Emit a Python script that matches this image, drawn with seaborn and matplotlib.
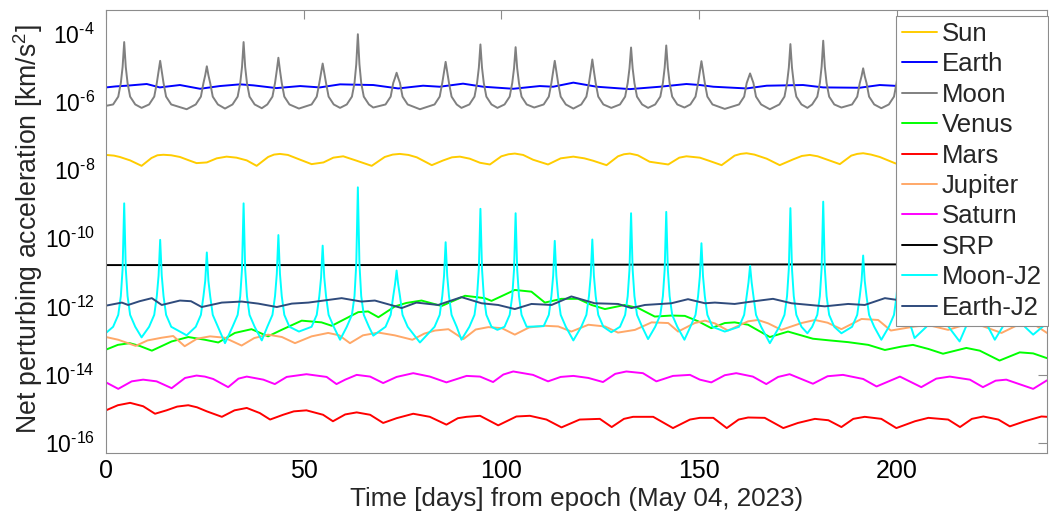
import math
import matplotlib
matplotlib.use("Agg")
import matplotlib.pyplot as plt
from matplotlib.ticker import FuncFormatter, NullLocator, FixedLocator
import pandas as pd
import seaborn as sns

# ---------------------------------------------------------------------------
# Perturbing accelerations, stored as log10 of the acceleration in km/s^2,
# sampled at the listed days after the epoch.
# ---------------------------------------------------------------------------
bodies = ["Sun", "Earth", "Moon", "Venus", "Mars", "Jupiter", "Saturn",
          "SRP", "Moon-J2", "Earth-J2"]

sun_days = [0, 2, 3.5, 6.1, 9.0, 11.5, 13, 14.5, 16.5, 18.7, 21, 22.9, 25.5, 28, 30.5,
            33, 35.6, 38.1, 41, 42.5, 44, 46, 49.1, 52, 55, 57.5, 60, 63.4, 67.2, 70.5,
            72.5, 74.3, 76.5, 78.6, 82.4, 85.3, 87.5, 89.5, 92, 94.6, 97.1, 100, 101.8,
            103.4, 105.5, 108, 111.8, 115, 118.2, 121, 123.2, 126.6, 129.5, 131, 132.5,
            134.5, 137.5, 142.2, 145, 146.8, 150.2, 152.5, 155.7, 159, 160.5, 162, 164,
            167.1, 170.4, 173.8, 176, 178, 180, 182.2, 185.6, 188.5, 190, 191.5, 193.5,
            195.7, 199.7, 203, 206, 208, 211, 215, 218.5, 220, 221.5, 223.5, 226, 229.5,
            232.5, 235, 238]
sun_log = [-7.56, -7.58, -7.62, -7.72, -7.88, -7.65, -7.57, -7.555, -7.57, -7.62, -7.72,
           -7.80, -7.78, -7.66, -7.61, -7.64, -7.72, -7.88, -7.62, -7.55, -7.53, -7.56,
           -7.70, -7.83, -7.78, -7.64, -7.60, -7.73, -7.88, -7.62, -7.55, -7.53, -7.56,
           -7.63, -7.86, -7.72, -7.63, -7.61, -7.67, -7.79, -7.84, -7.60, -7.54, -7.52,
           -7.56, -7.70, -7.84, -7.66, -7.61, -7.66, -7.73, -7.86, -7.60, -7.54, -7.52,
           -7.57, -7.76, -7.84, -7.64, -7.60, -7.64, -7.73, -7.86, -7.58, -7.53, -7.51,
           -7.55, -7.67, -7.86, -7.69, -7.59, -7.56, -7.60, -7.69, -7.83, -7.58, -7.53,
           -7.51, -7.55, -7.62, -7.81, -7.72, -7.60, -7.58, -7.66, -7.85, -7.60, -7.54,
           -7.53, -7.57, -7.70, -7.85, -7.66, -7.60, -7.61]

earth_days = [0, 2.5, 5.2, 10.3, 13.6, 18.7, 23.8, 28.8, 33.9, 37.3, 43.1, 49.1, 54.1,
              59.2, 63, 67.6, 73.9, 80.2, 84.4, 90.3, 95.4, 103, 109.7, 113.1, 118.2,
              124.1, 132.5, 140.1, 146.8, 150.2, 153.6, 162, 167.1, 176.3, 181.4, 190.6,
              195.7, 199.1, 205, 212, 220, 226, 232, 238]
earth_log = [-5.58, -5.55, -5.53, -5.48, -5.58, -5.51, -5.62, -5.54, -5.49, -5.52, -5.60,
             -5.54, -5.58, -5.49, -5.50, -5.51, -5.61, -5.53, -5.56, -5.47, -5.56, -5.62,
             -5.54, -5.56, -5.44, -5.56, -5.63, -5.56, -5.48, -5.51, -5.56, -5.61, -5.53,
             -5.51, -5.58, -5.59, -5.51, -5.53, -5.58, -5.50, -5.55, -5.60, -5.52, -5.54]

# Lunar terms: one row per close approach of the Moon
# (the trough before it, then the approach itself).
lunar_days = [
    0.0, 1.8, 3.1, 3.75, 4.2, 4.6, 5.0, 5.45, 6.1, 7.4,
    9.0, 10.9, 12.2, 12.85, 13.3, 13.7, 14.1, 14.55, 15.2, 16.5,
    20.4, 22.7, 24.0, 24.65, 25.1, 25.5, 25.9, 26.35, 27.0, 28.3,
    30.1, 32.0, 33.3, 33.95, 34.4, 34.8, 35.2, 35.65, 36.3, 37.6,
    39.4, 40.8, 42.1, 42.75, 43.2, 43.6, 44.0, 44.45, 45.1, 46.4,
    48.8, 52.0, 53.3, 53.95, 54.4, 54.8, 55.2, 55.65, 56.3, 57.6,
    59.2, 60.9, 62.2, 62.85, 63.3, 63.7, 64.1, 64.55, 65.2, 66.5,
    67.6, 70.7, 72.0, 72.65, 73.1, 73.5, 73.9, 74.35, 75.0, 76.3,
    79.4, 83.1, 84.4, 85.05, 85.5, 85.9, 86.3, 86.75, 87.4, 88.7,
    89.9, 91.9, 93.2, 93.85, 94.3, 94.7, 95.1, 95.55, 96.2, 97.5,
    99.0, 100.8, 102.1, 102.75, 103.2, 103.6, 104.0, 104.45, 105.1, 106.4,
    108.3, 110.7, 112.0, 112.65, 113.1, 113.5, 113.9, 114.35, 115.0, 116.3,
    118.2, 120.2, 121.5, 122.15, 122.6, 123.0, 123.4, 123.85, 124.5, 125.8,
    127.8, 130.0, 131.3, 131.95, 132.4, 132.8, 133.2, 133.65, 134.3, 135.6,
    137.1, 138.9, 140.2, 140.85, 141.3, 141.7, 142.1, 142.55, 143.2, 144.5,
    146.3, 147.8, 149.1, 149.75, 150.2, 150.6, 151.0, 151.45, 152.1, 153.4,
    156.5, 160.1, 161.4, 162.05, 162.5, 162.9, 163.3, 163.75, 164.4, 165.7,
    167.9, 170.3, 171.6, 172.25, 172.7, 173.1, 173.5, 173.95, 174.6, 175.9,
    177.4, 178.6, 179.9, 180.55, 181.0, 181.4, 181.8, 182.25, 182.9, 184.2,
    186.0, 188.7, 190.0, 190.65, 191.1, 191.5, 191.9, 192.35, 193.0, 194.3,
    196.1, 198.0, 199.3, 199.95, 200.4, 200.8, 201.2, 201.65, 202.3, 203.6,
    204.5, 207.5, 208.8, 209.45, 209.9, 210.3, 210.7, 211.15, 211.8, 213.1,
    215.9, 217.5, 218.8, 219.45, 219.9, 220.3, 220.7, 221.15, 221.8, 223.1,
    224.8, 226.8, 228.1, 228.75, 229.2, 229.6, 230.0, 230.45, 231.1, 232.4,
    234.5, 238.0,
]
moon_log = [
    -6.12, -6.08, -5.85, -5.45, -4.98, -4.25, -4.98, -5.45, -5.85, -6.08,
    -6.18, -6.08, -5.85, -5.45, -5.10, -4.80, -5.10, -5.45, -5.85, -6.08,
    -6.22, -6.08, -5.85, -5.45, -5.22, -4.96, -5.22, -5.45, -5.85, -6.08,
    -6.20, -6.08, -5.85, -5.45, -4.98, -4.25, -4.98, -5.45, -5.85, -6.08,
    -6.19, -6.08, -5.85, -5.45, -5.08, -4.71, -5.08, -5.45, -5.85, -6.08,
    -6.20, -6.08, -5.85, -5.45, -5.15, -4.88, -5.15, -5.45, -5.85, -6.08,
    -6.18, -6.08, -5.85, -5.45, -4.90, -4.02, -4.90, -5.45, -5.85, -6.08,
    -6.17, -6.08, -5.85, -5.45, -5.30, -5.15, -5.30, -5.45, -5.85, -6.08,
    -6.22, -6.08, -5.85, -5.45, -5.12, -4.83, -5.12, -5.45, -5.85, -6.08,
    -6.18, -6.08, -5.85, -5.45, -5.00, -4.32, -5.00, -5.45, -5.85, -6.08,
    -6.18, -6.08, -5.85, -5.45, -5.02, -4.40, -5.02, -5.45, -5.85, -6.08,
    -6.17, -6.08, -5.85, -5.45, -5.10, -4.80, -5.10, -5.45, -5.85, -6.08,
    -6.20, -6.08, -5.85, -5.45, -5.10, -4.76, -5.10, -5.45, -5.85, -6.08,
    -6.18, -6.08, -5.85, -5.45, -5.02, -4.41, -5.02, -5.45, -5.85, -6.08,
    -6.18, -6.08, -5.85, -5.45, -5.00, -4.35, -5.00, -5.45, -5.85, -6.08,
    -6.17, -6.08, -5.85, -5.45, -5.10, -4.81, -5.10, -5.45, -5.85, -6.08,
    -6.21, -6.08, -5.85, -5.45, -5.30, -5.17, -5.30, -5.45, -5.85, -6.08,
    -6.22, -6.08, -5.85, -5.45, -5.00, -4.31, -5.00, -5.45, -5.85, -6.08,
    -6.18, -6.08, -5.85, -5.45, -4.97, -4.21, -4.97, -5.45, -5.85, -6.08,
    -6.17, -6.08, -5.85, -5.45, -5.25, -5.02, -5.25, -5.45, -5.85, -6.08,
    -6.19, -6.08, -5.85, -5.45, -5.06, -4.60, -5.06, -5.45, -5.85, -6.08,
    -6.20, -6.08, -5.85, -5.45, -5.05, -4.55, -5.05, -5.45, -5.85, -6.08,
    -6.20, -6.08, -5.85, -5.45, -5.15, -4.90, -5.15, -5.45, -5.85, -6.08,
    -6.20, -6.08, -5.85, -5.45, -5.08, -4.70, -5.08, -5.45, -5.85, -6.08,
    -6.20, -6.00,
]
moon_j2_log = [
    -12.78, -12.60, -12.25, -11.70, -10.90, -8.98, -10.90, -11.70, -12.25, -12.60,
    -12.91, -12.60, -12.25, -11.70, -11.10, -10.05, -11.10, -11.70, -12.25, -12.60,
    -12.85, -12.60, -12.25, -11.70, -11.25, -10.42, -11.25, -11.70, -12.25, -12.60,
    -13.08, -12.60, -12.25, -11.70, -10.90, -8.98, -10.90, -11.70, -12.25, -12.60,
    -13.00, -12.60, -12.25, -11.70, -11.05, -9.91, -11.05, -11.70, -12.25, -12.60,
    -12.74, -12.60, -12.25, -11.70, -11.15, -10.22, -11.15, -11.70, -12.25, -12.60,
    -12.98, -12.60, -12.25, -11.70, -10.75, -8.51, -10.75, -11.70, -12.25, -12.60,
    -12.86, -12.60, -12.25, -11.70, -11.35, -10.95, -11.35, -11.70, -12.25, -12.60,
    -13.06, -12.60, -12.25, -11.70, -11.10, -10.12, -11.10, -11.70, -12.25, -12.60,
    -12.98, -12.60, -12.25, -11.70, -10.90, -9.14, -10.90, -11.70, -12.25, -12.60,
    -12.69, -12.60, -12.25, -11.70, -10.92, -9.27, -10.92, -11.70, -12.25, -12.60,
    -12.59, -12.58, -12.25, -11.70, -11.10, -10.08, -11.10, -11.70, -12.25, -12.60,
    -13.00, -12.60, -12.25, -11.70, -11.10, -10.04, -11.10, -11.70, -12.25, -12.60,
    -12.76, -12.60, -12.25, -11.70, -10.92, -9.27, -10.92, -11.70, -12.25, -12.60,
    -12.96, -12.60, -12.25, -11.70, -10.92, -9.23, -10.92, -11.70, -12.25, -12.60,
    -12.98, -12.60, -12.25, -11.70, -11.12, -10.15, -11.12, -11.70, -12.25, -12.60,
    -12.74, -12.60, -12.25, -11.70, -11.30, -10.81, -11.30, -11.70, -12.25, -12.60,
    -13.08, -12.60, -12.25, -11.70, -10.90, -9.12, -10.90, -11.70, -12.25, -12.60,
    -12.79, -12.60, -12.25, -11.70, -10.88, -8.93, -10.88, -11.70, -12.25, -12.60,
    -12.79, -12.60, -12.25, -11.70, -11.25, -10.51, -11.25, -11.70, -12.25, -12.60,
    -12.98, -12.60, -12.25, -11.70, -11.05, -9.80, -11.05, -11.70, -12.25, -12.60,
    -12.93, -12.60, -12.25, -11.70, -11.00, -9.50, -11.00, -11.70, -12.25, -12.60,
    -13.03, -12.60, -12.25, -11.70, -11.10, -10.00, -11.10, -11.70, -12.25, -12.60,
    -12.98, -12.60, -12.25, -11.70, -11.02, -9.60, -11.02, -11.70, -12.25, -12.60,
    -12.83, -12.49,
]

venus_days = [0, 3, 6, 8.5, 11.6, 16.6, 20.8, 25, 28.4, 32.6, 36.8, 41, 44.4, 49.5, 54.5,
              57.1, 63.8, 66.3, 68.9, 73.1, 76, 79.8, 84.9, 90.8, 95.8, 97.5, 103.4, 107.6,
              111, 115.2, 119.4, 122.8, 126.2, 131.2, 134.6, 138.8, 143, 146.4, 149.8,
              153.1, 156.5, 159, 162.4, 167.9, 172.5, 178.8, 183.1, 187.7, 192.8, 197,
              201.2, 204.1, 208, 211.7, 217.6, 221, 226, 231.1, 234.5, 238]
venus_log = [-13.27, -13.13, -13.08, -13.16, -13.30, -13.03, -12.90, -12.98, -13.06, -12.78,
             -12.67, -12.88, -12.69, -12.42, -12.47, -12.57, -12.17, -12.15, -12.32, -12.00,
             -11.90, -11.83, -11.99, -11.69, -11.76, -11.84, -11.52, -11.57, -11.89, -11.78,
             -11.78, -11.96, -12.08, -11.96, -12.05, -12.30, -12.27, -12.28, -12.44, -12.64,
             -12.49, -12.47, -12.54, -12.90, -12.74, -12.95, -13.00, -13.05, -13.13, -13.28,
             -13.18, -13.13, -13.25, -13.39, -13.22, -13.30, -13.59, -13.35, -13.38, -13.52]

mars_days = [0, 3, 6.1, 9.4, 12.4, 15.3, 18, 20.8, 23, 25.5, 29.3, 32.5, 35.6, 38.9, 41.5,
             44.8, 47.5, 50.7, 54.9, 57.4, 60.5, 63.4, 66.8, 70.1, 73.5, 77.7, 81.9, 86.1,
             89, 91.2, 94.6, 99.2, 103.8, 107.2, 111.4, 115.2, 119.8, 124.9, 127.9, 131,
             133.3, 138.4, 143.4, 147.7, 150.2, 153.6, 157.0, 160, 162.4, 166.6, 171.3,
             175.0, 179.3, 182.7, 186.0, 189, 191.9, 196.1, 199.9, 204.6, 208.0, 213.0,
             216.0, 219, 221.9, 225.7, 228.6, 232.4, 236.6, 238]
mars_log = [-15.05, -14.90, -14.83, -14.93, -15.15, -15.05, -14.94, -14.90, -14.96, -15.08,
            -15.24, -15.05, -14.98, -15.13, -15.32, -15.18, -15.08, -15.05, -15.18, -15.37,
            -15.17, -15.11, -15.18, -15.42, -15.28, -15.15, -15.24, -15.47, -15.28, -15.24,
            -15.21, -15.49, -15.23, -15.21, -15.32, -15.55, -15.32, -15.30, -15.54, -15.30,
            -15.24, -15.24, -15.57, -15.32, -15.27, -15.27, -15.57, -15.32, -15.26, -15.27,
            -15.57, -15.42, -15.30, -15.34, -15.54, -15.30, -15.24, -15.30, -15.57, -15.37,
            -15.27, -15.32, -15.54, -15.30, -15.23, -15.32, -15.52, -15.37, -15.23, -15.24]

jupiter_days = [0, 3.1, 7.5, 10.5, 14.1, 17.0, 19.9, 23, 26.3, 30, 34.3, 37.5, 41, 44.5,
                47.8, 52, 56.2, 59, 61.7, 65, 68.9, 73, 77.5, 80.5, 83.2, 86.6, 90.4, 93.5,
                96.7, 100.1, 103.4, 107, 111, 114.4, 117.7, 122, 126.2, 129.5, 133.8, 138,
                142.2, 144.7, 148.9, 151.5, 154, 157.3, 162.4, 164.9, 167.5, 170.8, 175.9,
                179.3, 182.5, 186, 191.1, 195.3, 198.5, 204.6, 208, 213, 217.2, 221, 226.5,
                231.6, 235, 238]
jupiter_log = [-12.90, -12.98, -13.16, -13.00, -12.92, -12.87, -13.17, -12.95, -12.88,
               -12.92, -13.15, -12.93, -12.83, -12.90, -13.08, -12.88, -12.78, -12.85,
               -13.08, -12.85, -12.77, -12.85, -12.98, -12.80, -12.71, -12.67, -12.96,
               -12.68, -12.61, -12.64, -12.83, -12.62, -12.57, -12.59, -12.74, -12.54,
               -12.59, -12.77, -12.69, -12.47, -12.49, -12.74, -12.49, -12.42, -12.50,
               -12.71, -12.44, -12.40, -12.50, -12.69, -12.49, -12.40, -12.48, -12.67,
               -12.37, -12.40, -12.71, -12.59, -12.55, -12.69, -12.54, -12.55, -12.78,
               -12.49, -12.55, -12.78]

saturn_days = [0, 3.1, 6.5, 9.4, 12.8, 16.6, 20, 22.9, 25, 27.1, 30.9, 33.5, 35.6, 39.8,
               42.7, 45.7, 50.7, 55.8, 58.3, 60.5, 63.4, 66.8, 70.1, 73.5, 77.7, 81.9, 86.1,
               91.2, 94.6, 97.9, 100.5, 103.0, 108.0, 111.8, 115, 118.2, 122, 125.7, 128.8,
               131.6, 135.8, 139.2, 143.4, 147.7, 150.2, 153.1, 156.5, 159.4, 163.6, 167.0,
               170, 172.9, 178.8, 182.5, 186.4, 191.5, 194.9, 200.8, 206.2, 210, 213.4,
               218.5, 221.8, 225, 227.7, 234.5, 238]
saturn_log = [-14.23, -14.42, -14.20, -14.15, -14.20, -14.40, -14.10, -14.03, -14.06, -14.13,
              -14.37, -14.12, -14.06, -14.15, -14.28, -14.07, -13.99, -14.07, -14.28, -14.15,
              -14.01, -14.06, -14.25, -14.07, -13.96, -14.06, -14.23, -14.04, -14.06, -14.22,
              -14.00, -13.91, -14.01, -14.20, -14.07, -14.04, -14.10, -14.22, -13.98, -13.91,
              -13.96, -14.20, -14.04, -14.01, -14.15, -14.23, -14.02, -13.96, -14.06, -14.28,
              -14.07, -13.99, -14.27, -14.05, -14.01, -14.13, -14.35, -14.06, -14.37, -14.12,
              -14.06, -14.15, -14.37, -14.18, -14.15, -14.42, -14.17]

srp_days = [0, 60, 120, 180, 238]
srp_log = [-10.79, -10.79, -10.78, -10.77, -10.77]

earth_j2_days = [0, 4.0, 5.6, 8.5, 11.6, 14.1, 18.7, 21.5, 24.2, 29.3, 34.3, 38.5, 43.2,
                 47, 51.2, 59.6, 64.6, 68.0, 74.8, 78.5, 84.0, 89.9, 95.0, 99.2, 103.4,
                 107.6, 112.7, 117.7, 123.6, 129.5, 132.9, 136.3, 143.0, 147.2, 151.5, 154,
                 159, 163.3, 168.7, 173.4, 181.8, 187.7, 191.9, 197, 200, 205, 212, 218,
                 225, 231, 238]
earth_j2_log = [-11.98, -11.89, -11.96, -11.85, -11.76, -11.96, -11.83, -11.85, -12.02,
                -11.89, -11.86, -11.92, -12.02, -11.92, -11.89, -11.76, -11.86, -11.83,
                -12.05, -11.89, -11.96, -11.73, -11.91, -11.96, -12.08, -11.93, -11.96,
                -11.71, -11.91, -11.93, -12.05, -11.96, -11.91, -11.79, -11.91, -11.89,
                -11.93, -11.86, -11.78, -11.91, -12.00, -11.93, -11.96, -11.76, -11.81,
                -11.92, -11.98, -11.85, -11.80, -11.95, -11.90]

colors = ["#FFCC00", "#0000FF", "#808080", "#00FF00", "#FF0000", "#FFA868",
          "#FF00FF", "#000000", "#00FFFF", "#2F4B7C"]

y_tick_exponents = [-16, -14, -12, -10, -8, -6, -4]
x_ticks = [0, 50, 100, 150, 200]

series = {
    "Sun": (sun_days, sun_log),
    "Earth": (earth_days, earth_log),
    "Moon": (lunar_days, moon_log),
    "Venus": (venus_days, venus_log),
    "Mars": (mars_days, mars_log),
    "Jupiter": (jupiter_days, jupiter_log),
    "Saturn": (saturn_days, saturn_log),
    "SRP": (srp_days, srp_log),
    "Moon-J2": (lunar_days, moon_j2_log),
    "Earth-J2": (earth_j2_days, earth_j2_log),
}

frames = []
for name in bodies:
    d, v = series[name]
    frames.append(pd.DataFrame({"body": name, "day": d, "log_acc": v}))
df = pd.concat(frames, ignore_index=True)
df["accel"] = 10.0 ** df["log_acc"]

# ---------------------------------------------------------------------------
# Figure
# ---------------------------------------------------------------------------
sns.set_style("white")
plt.rcParams["font.family"] = ["Liberation Sans", "DejaVu Sans"]
plt.rcParams["mathtext.fontset"] = "custom"
plt.rcParams["mathtext.rm"] = "Liberation Sans"
plt.rcParams["mathtext.it"] = "Liberation Sans:italic"
plt.rcParams["mathtext.bf"] = "Liberation Sans:bold"

W, H = 1049, 516
fig = plt.figure(figsize=(W / 100, H / 100), dpi=100)
ax = fig.add_axes([106 / W, 1 - 453 / H, (1047 - 106) / W, (453 - 9.7) / H])

sns.lineplot(data=df, x="day", y="accel", hue="body", hue_order=bodies,
             palette=dict(zip(bodies, colors)), estimator=None, sort=False,
             linewidth=1.4, legend=False, ax=ax)

ax.set_yscale("log")
ax.set_xlim(0, 238)
ax.set_ylim(5e-17, 5e-4)

edge = "#8c8c8c"
for sp in ax.spines.values():
    sp.set_color(edge)
    sp.set_linewidth(0.8)


def power_label(value, pos):
    exp = int(round(math.log10(value)))
    sign = "-" if exp < 0 else ""
    return r"$\mathdefault{10^{\text{%s%d}}}$" % (sign, abs(exp))


ax.xaxis.set_major_locator(FixedLocator(x_ticks))
ax.yaxis.set_major_locator(FixedLocator([10.0 ** e for e in y_tick_exponents]))
ax.yaxis.set_major_formatter(FuncFormatter(power_label))
ax.yaxis.set_minor_locator(NullLocator())
ax.xaxis.set_minor_locator(NullLocator())
ax.tick_params(which="both", direction="in", length=6.5, width=0.8, color=edge,
               top=True, right=True, labelcolor="black")
ax.tick_params(axis="y", pad=8, labelsize=16.5)
ax.tick_params(axis="x", pad=4.5, labelsize=18)

ax.set_xlabel("Time [days] from epoch (May 04, 2023)", fontsize=18.7)
ax.set_ylabel("Net perturbing acceleration [km/s$^2$]", fontsize=19.2)
ax.xaxis.set_label_coords(0.5, -0.077)
ax.yaxis.set_label_coords(-0.065, 0.505)

handles = ax.get_lines()[:len(bodies)]
leg = ax.legend(handles, bodies, loc="upper right",
                bbox_to_anchor=(1048 / W, 1 - 15.7 / H), bbox_transform=fig.transFigure,
                frameon=True, fancybox=False, framealpha=1, edgecolor=edge,
                fontsize=18.5, handlelength=1.36, handletextpad=0.2, borderpad=0.24,
                labelspacing=0.25, borderaxespad=0)
leg.get_frame().set_linewidth(0.8)

fig.savefig("out.png", dpi=100, facecolor="white")
